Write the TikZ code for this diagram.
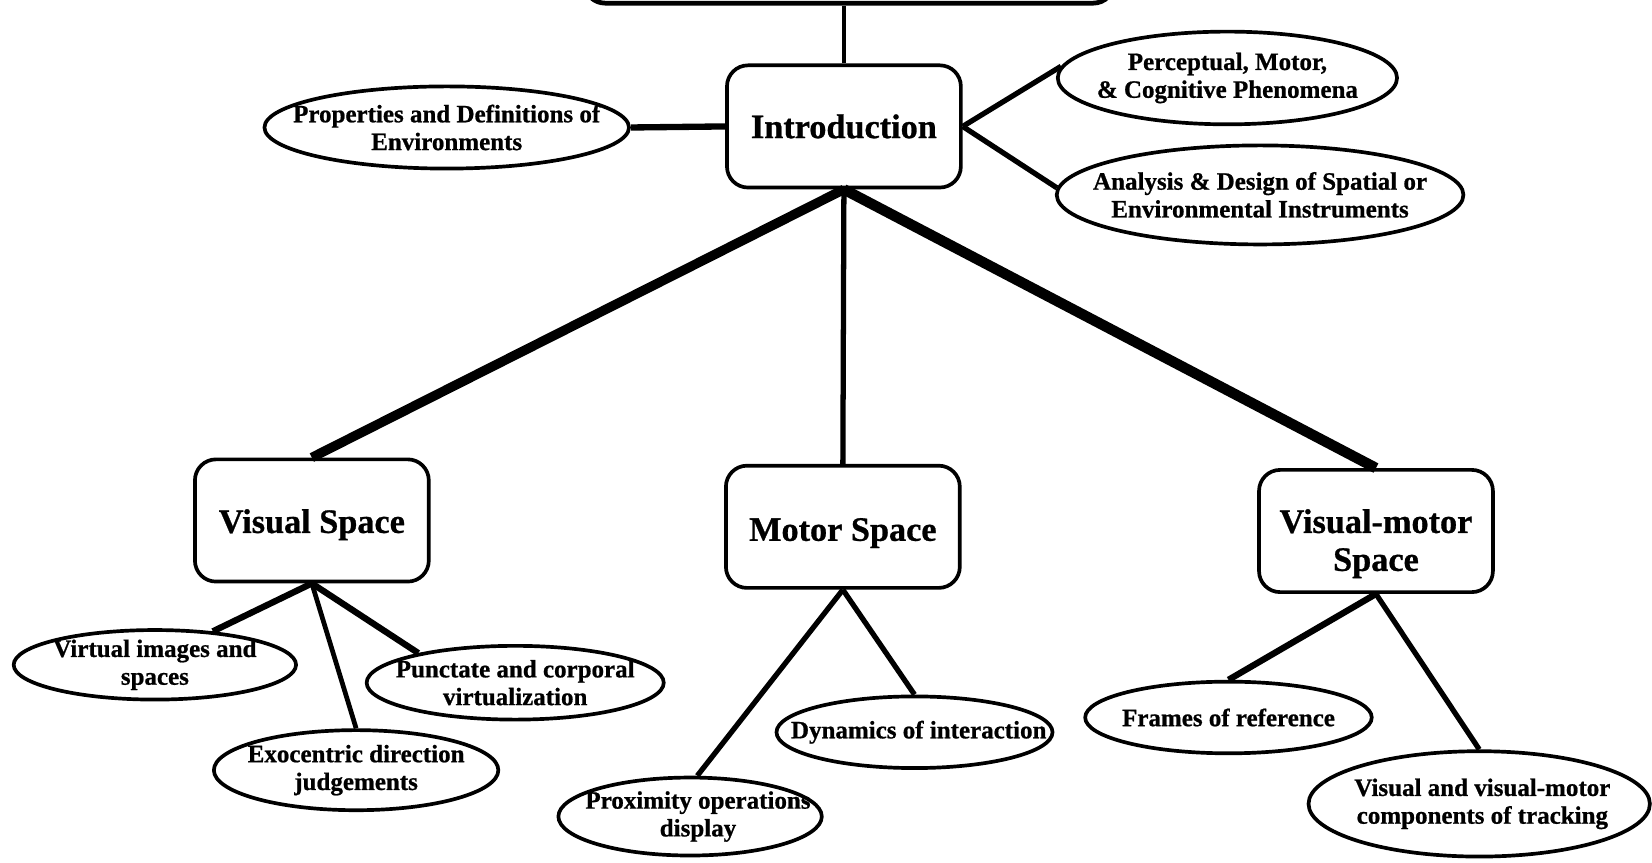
\documentclass[tikz,border=0pt]{standalone}
\usepackage{fontspec}
\setmainfont{Liberation Serif}[BoldFeatures={FakeBold=0.8}]
\usetikzlibrary{shapes.geometric}
\tikzset{
	topic/.style={draw, rounded corners=4mm, line width=0.7mm, minimum width=44.4mm, minimum height=23.2mm, align=center, font=\fontsize{18.5}{21}\selectfont\bfseries},
	topictext/.style={font=\fontsize{18.5}{20.5}\selectfont\bfseries, align=center, inner sep=0pt},
	leaf/.style={draw, ellipse, line width=0.7mm, inner sep=0pt},
	leaftext/.style={font=\fontsize{13.5}{15}\selectfont\bfseries, align=center, inner sep=0pt},
}

\begin{document}
\begin{tikzpicture}[x=0.2mm, y=-0.2mm]
		%%%%% START %%%%%
		\useasboundingbox (0, 0) rectangle (1568, 819);
		\clip (0, 0) rectangle (1568, 819);
		
		\node[draw, rounded corners=4mm, line width=0.9mm, minimum width=100.6mm, minimum height=20mm] (title) at (806, -47) {};
		
		\node[topic] (intro) at (801, 120) {Introduction};
		\node[topic, label={[topictext, yshift=-0.8mm]center:Visual Space}] (vis) at (296, 494) {};
		\node[topic, label={[topictext, yshift=-1.2mm]center:Motor Space}] (mot) at (800, 500) {};
		\node[topic, label={[topictext, yshift=-2.4mm]center:Visual-motor\\Space}] (vm) at (1306, 504) {};
		
		\node[leaf, minimum width=69.2mm, minimum height=15.6mm, label={[leaftext]center:Properties and Definitions of\\Environments}] (prop) at (424, 121) {};
		\node[leaf, minimum width=64.4mm, minimum height=17.6mm, label={[leaftext]center:Perceptual, Motor,\\\& Cognitive Phenomena}] (perc) at (1165, 74) {};
		\node[leaf, minimum width=77.2mm, minimum height=18.8mm, label={[leaftext]center:Analysis \& Design of Spatial or\\Environmental Instruments}] (ana) at (1196, 185) {};
		
		\node[leaf, minimum width=53.6mm, minimum height=13.2mm, label={[leaftext]center:Virtual images and\\spaces}] (virt) at (147, 631) {};
		\node[leaf, minimum width=56.4mm, minimum height=14mm, label={[leaftext]center:Punctate and corporal\\virtualization}] (punct) at (489, 648) {};
		\node[leaf, minimum width=54mm, minimum height=15.2mm, label={[leaftext]center:Exocentric direction\\judgements}] (exo) at (338, 731) {};
		
		\node[leaf, minimum width=50mm, minimum height=14.8mm, label={[leaftext, xshift=1.5mm]center:Proximity operations\\display}] (prox) at (655, 775) {};
		\node[leaf, minimum width=52.4mm, minimum height=13.6mm, label={[leaftext, xshift=0.8mm]center:Dynamics of interaction}] (dyn) at (868, 695) {};
		
		\node[leaf, minimum width=54.4mm, minimum height=13.6mm, label={[leaftext]center:Frames of reference}] (frames) at (1166, 681) {};
		\node[leaf, minimum width=64.8mm, minimum height=20mm, label={[leaftext, xshift=0.6mm]center:Visual and visual-motor\\components of tracking}] (track) at (1404, 763) {};
		
		% top level
		\draw[line width=0.8mm] (intro.north) -- (intro.north |- title.south);
		\draw[line width=1.2mm] (prop.east) -- (intro.west);
		\draw[line width=1mm] (intro.east) -- (perc.176);
		\draw[line width=1mm] (intro.east) -- (ana.178);
		
		\draw[line width=1.8mm] (intro.south) -- (vis.north);
		\draw[line width=1mm] (intro.south) -- (mot.north);
		\draw[line width=2mm] (intro.south) -- (vm.north);
		
		% branches
		\draw[line width=1.2mm] (vis.south) -- (virt.30);
		\draw[line width=0.9mm] (vis.south) -- (exo.north);
		\draw[line width=1.2mm] (vis.south) -- (punct.163);
		
		\draw[line width=1mm] (mot.south) -- (prox.80);
		\draw[line width=1mm] (mot.south) -- (dyn.north);
		
		\draw[line width=1.2mm] (vm.south) -- (frames.north);
		\draw[line width=1mm] (vm.south) -- (track.north);
		
		%%%%% END %%%%%
	\end{tikzpicture}
\end{document}
